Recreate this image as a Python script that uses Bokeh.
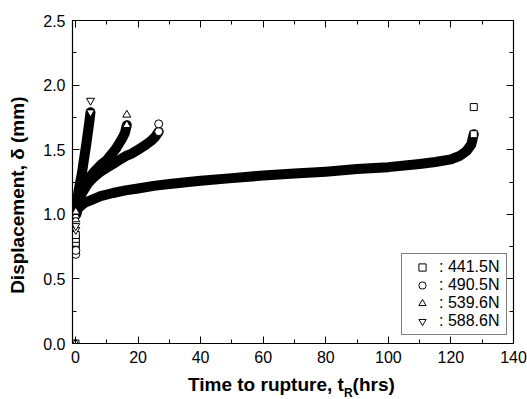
from bokeh.plotting import figure
from bokeh.models import (Range1d, LinearAxis, SingleIntervalTicker, Legend, LegendItem,
                          ColumnDataSource, PrintfTickFormatter, CustomJSTickFormatter, Div)
from bokeh.layouts import column
from bokeh.embed import file_html
from bokeh.resources import INLINE

FONT = "Liberation Sans"

# ---------------- data ----------------
labels = [": 441.5N", ": 490.5N", ": 539.6N", ": 588.6N"]
marker_types = ["square", "circle", "triangle", "inverted_triangle"]

# 441.5 N
t_441 = [0.3, 0.6, 1, 2, 3, 5, 8, 12, 16, 20, 25, 30, 40, 50, 60, 70, 80, 90, 100,
         110, 115, 120, 123, 125, 126.5, 127.3]
d_441 = [1.00, 1.03, 1.05, 1.07, 1.09, 1.11, 1.14, 1.165, 1.185, 1.20, 1.22, 1.235, 1.26,
         1.28, 1.30, 1.315, 1.33, 1.35, 1.365, 1.39, 1.405, 1.425, 1.455, 1.49, 1.54, 1.62]
start_t_441 = [0.0, 0.1, 0.1, 0.1, 0.1]
start_d_441 = [0.0, 0.75, 0.78, 0.81, 0.84]
out_t_441 = [127.3]
out_d_441 = [1.83]

# 490.5 N
t_490 = [0.3, 0.6, 1, 1.5, 2, 3, 4, 6, 8, 10, 12, 14, 16, 18, 20, 22, 24, 25.5, 26.6]
d_490 = [1.02, 1.06, 1.10, 1.13, 1.16, 1.20, 1.24, 1.29, 1.33, 1.36, 1.39, 1.42, 1.45,
         1.47, 1.50, 1.53, 1.565, 1.60, 1.64]
start_t_490 = [0.1, 0.1]
start_d_490 = [0.69, 0.72]
out_t_490 = [26.6]
out_d_490 = [1.70]

# 539.6 N
t_539 = [0.3, 0.6, 1, 1.5, 2, 3, 4, 5, 6, 7, 8, 9, 10, 11, 12, 13, 14, 15, 15.8, 16.4]
d_539 = [1.03, 1.07, 1.11, 1.15, 1.18, 1.23, 1.27, 1.30, 1.33, 1.355, 1.38, 1.40, 1.42,
         1.45, 1.48, 1.51, 1.55, 1.59, 1.63, 1.69]
start_t_539 = [0.0, 0.1, 0.1, 0.1]
start_d_539 = [0.0, 0.96, 0.99, 1.02]
out_t_539 = [16.4]
out_d_539 = [1.77]

# 588.6 N
t_588 = [0.2, 0.5, 1.0, 1.5, 2.0, 2.5, 3.0, 3.5, 4.0, 4.4, 4.8]
d_588 = [1.02, 1.10, 1.18, 1.25, 1.31, 1.39, 1.47, 1.55, 1.64, 1.71, 1.79]
start_t_588 = [0.1, 0.1]
start_d_588 = [0.88, 0.91]
out_t_588 = [4.8]
out_d_588 = [1.88]

series = [
    (t_441, d_441, start_t_441, start_d_441, out_t_441, out_d_441),
    (t_490, d_490, start_t_490, start_d_490, out_t_490, out_d_490),
    (t_539, d_539, start_t_539, start_d_539, out_t_539, out_d_539),
    (t_588, d_588, start_t_588, start_d_588, out_t_588, out_d_588),
]
marker_sizes = [7, 8, 8, 8]

x_ticks_interval = 20
y_ticks_interval = 0.5

# ---------------- figure ----------------
p = figure(width=527, height=370, output_backend="svg", toolbar_location=None,
           x_range=Range1d(-0.95, 140), y_range=Range1d(0, 2.5),
           min_border_left=72, min_border_right=14, min_border_top=20, min_border_bottom=27)
p.xgrid.visible = False
p.ygrid.visible = False
p.outline_line_color = "black"
p.outline_line_width = 1
p.background_fill_color = "white"
p.border_fill_color = "white"

bottom = p.below[0]
left = p.left[0]

xt = SingleIntervalTicker(interval=x_ticks_interval, num_minor_ticks=2)
yt = SingleIntervalTicker(interval=y_ticks_interval, num_minor_ticks=2)

bottom.ticker = xt
left.ticker = yt
bottom.formatter = PrintfTickFormatter(format="%d")
left.formatter = PrintfTickFormatter(format="%.1f")

top = LinearAxis(ticker=xt, formatter=CustomJSTickFormatter(code="return ''"))
right = LinearAxis(ticker=yt, formatter=CustomJSTickFormatter(code="return ''"))
p.add_layout(top, "above")
p.add_layout(right, "right")

for ax in [bottom, left, top, right]:
    ax.major_tick_in = 7
    ax.major_tick_out = 0
    ax.minor_tick_in = 4
    ax.minor_tick_out = 0
    ax.axis_line_color = "black"
    ax.axis_line_width = 1.2
    ax.major_tick_line_color = "black"
    ax.minor_tick_line_color = "black"
    ax.major_tick_line_width = 1
    ax.minor_tick_line_width = 1
    ax.major_label_text_font = FONT
    ax.major_label_text_font_size = "16px"
    ax.major_label_text_color = "black"
    ax.major_label_standoff = 7

for ax in [top, right]:
    ax.major_label_standoff = 0

left.axis_label = "Displacement, δ (mm)" + "\u00a0" * 5
left.axis_label_text_font = FONT
left.axis_label_text_font_style = "bold"
left.axis_label_text_font_size = "19px"
left.axis_label_text_color = "black"
left.axis_label_standoff = 12

# ---------------- data marks ----------------
mark_renderers = []
for (tc, dc, ts, ds, to, do) in series:
    p.line(tc, dc, line_color="black", line_width=10, line_cap="round", line_join="round")

for (tc, dc, ts, ds, to, do), mk, ms in zip(series, marker_types, marker_sizes):
    src = ColumnDataSource(dict(t=ts + [tc[-1]] + to, d=ds + [dc[-1]] + do))
    r = p.scatter("t", "d", source=src, marker=mk, size=ms, line_color="black",
                  line_width=1, fill_color="white")
    mark_renderers.append(r)

# ---------------- legend ----------------
legend = Legend(items=[LegendItem(label=lb, renderers=[r]) for lb, r in zip(labels, mark_renderers)],
                location=(329, 8))
legend.padding = 4
legend.margin = 0
legend.glyph_width = 32
legend.glyph_height = 18
legend.label_standoff = 1
legend.label_width = 63
legend.spacing = 0
legend.label_text_font = FONT
legend.label_text_font_size = "16px"
legend.label_text_color = "black"
legend.border_line_color = "black"
legend.border_line_width = 1
legend.background_fill_color = "white"
legend.background_fill_alpha = 1
p.add_layout(legend)

# ---------------- x axis title with subscript ----------------
x_title_html = (
    '<div style="margin-left:188px;white-space:nowrap;font-family:\'Liberation Sans\';'
    'font-weight:bold;font-size:19px;line-height:29px;color:black;">'
    'Time to rupture, t<sub style="font-size:12px;vertical-align:-6px;line-height:0;">R</sub>(hrs)'
    '</div>'
)
x_title = Div(text=x_title_html, width=527, height=29, margin=0)

layout = column(p, x_title, spacing=0)

open("out.html", "w").write(file_html(layout, INLINE))
